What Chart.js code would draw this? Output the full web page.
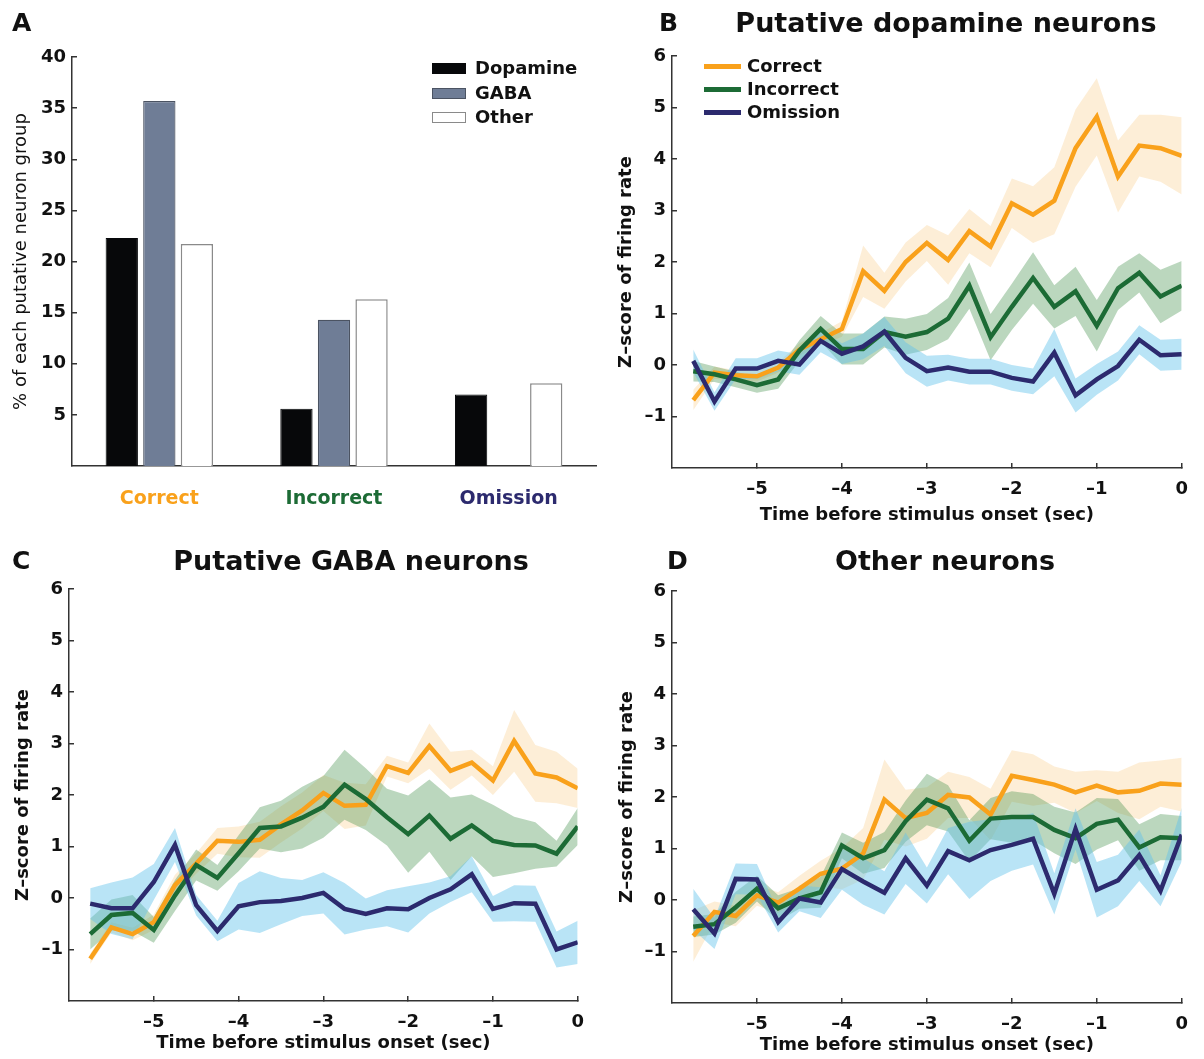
<!DOCTYPE html>
<html>
<head>
<meta charset="utf-8">
<script src="https://cdn.jsdelivr.net/npm/chart.js@4.4.1/dist/chart.umd.min.js"></script>
<style>
  body { margin: 0; width: 1204px; height: 1059px; position: relative; background: #fff;
         font-family: 'DejaVu Sans', sans-serif; color: #111; overflow: hidden; }
  canvas { position: absolute; }
  .letter { position: absolute; font-weight: bold; font-size: 25px; line-height: 25px; }
  .title { position: absolute; width: 560px; text-align: center; font-weight: bold;
           font-size: 27px; line-height: 27px; white-space: nowrap; }
  .leg { position: absolute; font-weight: bold; font-size: 18px; line-height: 18px; white-space: nowrap; }
  .leg .sw { position: absolute; }
  .leg span { position: absolute; }
</style>
</head>
<body>
<canvas id="chart-a" width="600" height="530" style="left:0;top:0"></canvas>
<canvas id="chart-b" width="604" height="530" style="left:600px;top:0"></canvas>
<canvas id="chart-c" width="600" height="529" style="left:0;top:530px"></canvas>
<canvas id="chart-d" width="604" height="529" style="left:600px;top:530px"></canvas>

<div class="letter" style="left:12px;top:10px">A</div>
<div class="letter" style="left:659px;top:10px">B</div>
<div class="letter" style="left:12px;top:548px">C</div>
<div class="letter" style="left:667px;top:548px">D</div>

<div class="title" style="left:666px;top:9px">Putative dopamine neurons</div>
<div class="title" style="left:71px;top:547px">Putative GABA neurons</div>
<div class="title" style="left:665px;top:547px">Other neurons</div>

<div id="legend-a"></div>
<div id="legend-b"></div>

<script>
// Panel A: % of each putative neuron group responding, by trial outcome
const CATEGORIES = ["Correct", "Incorrect", "Omission"];
const DOPAMINE_PCT = [22.3, 5.6, 7.0];
const GABA_PCT = [35.7, 14.3, 0];
const OTHER_PCT = [21.7, 16.3, 8.1];

// Panels B-D: z-scored firing rate before stimulus onset (mean and s.e.m.)
const TIMES = [-5.75, -5.5, -5.25, -5, -4.75, -4.5, -4.25, -4, -3.75, -3.5, -3.25, -3,
  -2.75, -2.5, -2.25, -2, -1.75, -1.5, -1.25, -1, -0.75, -0.5, -0.25, 0];

const DA_CORRECT = [-0.68, -0.15, -0.2, -0.22, -0.05, 0.3, 0.5, 0.7, 1.82, 1.44, 2.0, 2.37,
  2.04, 2.6, 2.3, 3.14, 2.92, 3.19, 4.21, 4.82, 3.66, 4.26, 4.21, 4.06];
const DA_CORRECT_SEM = [0.2, 0.12, 0.1, 0.1, 0.1, 0.12, 0.12, 0.15, 0.5, 0.35, 0.38, 0.35,
  0.48, 0.43, 0.4, 0.48, 0.55, 0.65, 0.75, 0.75, 0.7, 0.6, 0.65, 0.75];
const DA_INCORRECT = [-0.12, -0.18, -0.28, -0.39, -0.28, 0.28, 0.7, 0.31, 0.31, 0.64, 0.55, 0.64,
  0.9, 1.54, 0.54, 1.13, 1.69, 1.13, 1.43, 0.76, 1.49, 1.79, 1.33, 1.54];
const DA_INCORRECT_SEM = [0.2, 0.15, 0.15, 0.15, 0.18, 0.2, 0.25, 0.3, 0.3, 0.3, 0.35, 0.35,
  0.4, 0.45, 0.45, 0.45, 0.5, 0.42, 0.48, 0.5, 0.42, 0.38, 0.52, 0.48];
const DA_OMISSION = [0.08, -0.71, -0.07, -0.07, 0.08, 0.01, 0.47, 0.22, 0.36, 0.65, 0.14, -0.12,
  -0.05, -0.13, -0.13, -0.25, -0.32, 0.24, -0.59, -0.28, -0.02, 0.49, 0.19, 0.21];
const DA_OMISSION_SEM = [0.22, 0.18, 0.2, 0.2, 0.2, 0.2, 0.22, 0.2, 0.25, 0.28, 0.3, 0.3,
  0.25, 0.25, 0.25, 0.25, 0.25, 0.46, 0.33, 0.3, 0.28, 0.28, 0.3, 0.3];

const GABA_CORRECT = [-1.18, -0.57, -0.7, -0.47, 0.25, 0.67, 1.11, 1.09, 1.13, 1.43, 1.7, 2.04,
  1.79, 1.81, 2.56, 2.43, 2.95, 2.47, 2.63, 2.28, 3.05, 2.42, 2.34, 2.13];
const GABA_CORRECT_SEM = [0.1, 0.1, 0.12, 0.15, 0.2, 0.2, 0.25, 0.3, 0.35, 0.35, 0.35, 0.35,
  0.45, 0.4, 0.2, 0.2, 0.44, 0.37, 0.25, 0.28, 0.6, 0.55, 0.5, 0.38];
const GABA_INCORRECT = [-0.7, -0.33, -0.29, -0.62, 0.05, 0.64, 0.39, 0.87, 1.36, 1.39, 1.56, 1.77,
  2.2, 1.92, 1.57, 1.24, 1.6, 1.15, 1.41, 1.11, 1.03, 1.02, 0.86, 1.39];
const GABA_INCORRECT_SEM = [0.3, 0.3, 0.35, 0.25, 0.3, 0.3, 0.25, 0.35, 0.4, 0.5, 0.6, 0.6,
  0.68, 0.6, 0.55, 0.75, 0.7, 0.8, 0.6, 0.7, 0.55, 0.45, 0.25, 0.36];
const GABA_OMISSION = [-0.11, -0.2, -0.2, 0.31, 1.03, -0.14, -0.64, -0.16, -0.08, -0.06, 0.0, 0.1,
  -0.21, -0.31, -0.2, -0.22, 0.0, 0.17, 0.46, -0.21, -0.1, -0.11, -1.0, -0.86];
const GABA_OMISSION_SEM = [0.3, 0.5, 0.6, 0.35, 0.33, 0.2, 0.2, 0.45, 0.6, 0.45, 0.35, 0.4,
  0.5, 0.3, 0.35, 0.45, 0.3, 0.25, 0.35, 0.25, 0.35, 0.35, 0.35, 0.42];

const OTHER_CORRECT = [-0.7, -0.23, -0.31, 0.09, -0.05, 0.22, 0.51, 0.61, 0.9, 1.95, 1.59, 1.69,
  2.04, 1.99, 1.66, 2.41, 2.33, 2.24, 2.09, 2.22, 2.09, 2.12, 2.26, 2.24];
const OTHER_CORRECT_SEM = [0.5, 0.2, 0.2, 0.2, 0.2, 0.25, 0.25, 0.4, 0.5, 0.78, 0.55, 0.5,
  0.45, 0.4, 0.5, 0.5, 0.5, 0.35, 0.4, 0.3, 0.4, 0.55, 0.45, 0.52];
const OTHER_INCORRECT = [-0.52, -0.47, -0.14, 0.22, -0.16, 0.03, 0.15, 1.06, 0.81, 0.97, 1.53, 1.95,
  1.78, 1.15, 1.58, 1.61, 1.61, 1.36, 1.2, 1.48, 1.56, 1.02, 1.22, 1.2];
const OTHER_INCORRECT_SEM = [0.2, 0.2, 0.3, 0.25, 0.25, 0.2, 0.3, 0.25, 0.3, 0.35, 0.4, 0.5,
  0.45, 0.4, 0.4, 0.5, 0.45, 0.45, 0.5, 0.5, 0.4, 0.45, 0.45, 0.43];
const OTHER_OMISSION = [-0.18, -0.65, 0.41, 0.4, -0.43, 0.03, -0.05, 0.6, 0.36, 0.14, 0.81, 0.28,
  0.95, 0.77, 0.97, 1.07, 1.19, 0.12, 1.38, 0.2, 0.38, 0.87, 0.18, 1.27];
const OTHER_OMISSION_SEM = [0.4, 0.3, 0.3, 0.3, 0.2, 0.25, 0.3, 0.4, 0.45, 0.42, 0.5, 0.35,
  0.45, 0.75, 0.6, 0.5, 0.5, 0.4, 0.4, 0.54, 0.5, 0.5, 0.3, 0.52];

const Z_TICKS = [-1, 0, 1, 2, 3, 4, 5, 6];
const T_TICKS = [-5, -4, -3, -2, -1, 0];
const PCT_TICKS = [5, 10, 15, 20, 25, 30, 35, 40];

(function () {
  const FAMILY = "'DejaVu Sans', sans-serif";
  const INK = "#111";
  const AXIS = "#333";
  const LINE = { correct: "#f9a11b", incorrect: "#1c6b35", omission: "#2c2a6e" };
  const BAND = {
    correct: "rgba(245,180,80,0.23)",
    incorrect: "rgba(60,140,70,0.35)",
    omission: "rgba(100,195,235,0.45)",
  };
  const LABELS = { correct: "Correct", incorrect: "Incorrect", omission: "Omission" };
  const font = (size, weight = "bold") => ({ family: FAMILY, size, weight });
  const dash = (v) => String(v).replace("-", "\u2013");
  const only = (list) => (s) => { s.ticks = list.map((v) => ({ value: v })); };
  const pts = (ys, sem, sign) => TIMES.map((t, i) => ({ x: t, y: ys[i] + sign * sem[i] }));

  // ---- A: grouped bars
  new Chart(document.getElementById("chart-a"), {
    type: "bar",
    data: {
      labels: CATEGORIES,
      datasets: [
        { label: "Dopamine", data: DOPAMINE_PCT, backgroundColor: "#07080a", borderColor: "#07080a", borderWidth: 1 },
        { label: "GABA", data: GABA_PCT, backgroundColor: "#6f7d96", borderColor: "#4b5362", borderWidth: 1.2 },
        { label: "Other", data: OTHER_PCT, backgroundColor: "#ffffff", borderColor: "#8a8a8a", borderWidth: 1.5 },
      ],
    },
    options: {
      responsive: false, animation: false,
      layout: { padding: { top: 57, right: 4, bottom: 0, left: 0 } },
      datasets: { bar: { categoryPercentage: 0.645, barPercentage: 0.86 } },
      plugins: { legend: { display: false }, tooltip: { enabled: false } },
      scales: {
        x: {
          grid: { display: false, drawTicks: false },
          border: { color: AXIS, width: 1.5 },
          ticks: {
            padding: 22, font: font(19),
            color: (c) => [LINE.correct, LINE.incorrect, LINE.omission][c.index],
          },
          afterFit: (s) => { s.height = 64; },
        },
        y: {
          min: 0, max: 40,
          afterBuildTicks: only(PCT_TICKS),
          grid: { drawOnChartArea: false, tickLength: -5, color: AXIS, lineWidth: 1.5 },
          border: { color: AXIS, width: 1.5 },
          ticks: { padding: 11, font: font(18), color: INK },
          title: { display: true, text: "% of each putative neuron group", font: font(18, "normal"),
                   color: INK, padding: { top: 11, bottom: 0 } },
          afterFit: (s) => { s.width = 72; },
        },
      },
    },
  });

  // ---- B-D: mean line with shaded s.e.m. band per outcome
  function zChart(id, groups, g) {
    const datasets = [];
    groups.forEach(([key, mean, sem], k) => {
      datasets.push({ label: LABELS[key], data: TIMES.map((t, i) => ({ x: t, y: mean[i] })),
        borderColor: LINE[key], borderWidth: 4.5, pointRadius: 0, fill: false, order: 3 - k });
    });
    groups.forEach(([key, mean, sem], k) => {
      datasets.push({ data: pts(mean, sem, 1), fill: "+1", backgroundColor: BAND[key],
        borderWidth: 0, pointRadius: 0, order: 12 - k });
      datasets.push({ data: pts(mean, sem, -1), fill: false, borderWidth: 0, pointRadius: 0, order: 12 - k });
    });
    new Chart(document.getElementById(id), {
      type: "line",
      data: { datasets },
      options: {
        responsive: false, animation: false,
        layout: { padding: { top: g.top, right: g.right, bottom: 0, left: 0 } },
        plugins: { legend: { display: false }, tooltip: { enabled: false } },
        scales: {
          x: {
            type: "linear", min: -6, max: 0,
            afterBuildTicks: only(T_TICKS),
            grid: { drawOnChartArea: false, tickLength: -5, color: AXIS, lineWidth: 1.5 },
            border: { color: AXIS, width: 1.5 },
            ticks: { padding: 16, font: font(18), color: INK, callback: dash, maxRotation: 0 },
            title: { display: true, text: "Time before stimulus onset (sec)", font: font(18),
                     color: INK, padding: { top: 0, bottom: g.xtb } },
            afterFit: (s) => { s.height = g.xh; },
          },
          y: {
            min: -2, max: 6,
            afterBuildTicks: only(Z_TICKS),
            grid: { drawOnChartArea: false, tickLength: -5, color: AXIS, lineWidth: 1.5 },
            border: { color: AXIS, width: 1.5 },
            ticks: { padding: 11, font: font(18), color: INK, callback: dash },
            title: { display: true, text: "Z\u2013score of firing rate", font: font(18),
                     color: INK, padding: { top: g.ytp, bottom: 0 } },
            afterFit: (s) => { s.width = g.yw; },
          },
        },
      },
    });
  }

  zChart("chart-b", [["correct", DA_CORRECT, DA_CORRECT_SEM], ["incorrect", DA_INCORRECT, DA_INCORRECT_SEM],
    ["omission", DA_OMISSION, DA_OMISSION_SEM]], { top: 56, right: 8, yw: 72, xh: 62, xtb: 4, ytp: 16 });
  zChart("chart-c", [["correct", GABA_CORRECT, GABA_CORRECT_SEM], ["incorrect", GABA_INCORRECT, GABA_INCORRECT_SEM],
    ["omission", GABA_OMISSION, GABA_OMISSION_SEM]], { top: 59, right: 5, yw: 69, xh: 58, xtb: 5, ytp: 13 });
  zChart("chart-d", [["correct", OTHER_CORRECT, OTHER_CORRECT_SEM], ["incorrect", OTHER_INCORRECT, OTHER_INCORRECT_SEM],
    ["omission", OTHER_OMISSION, OTHER_OMISSION_SEM]], { top: 61, right: 8, yw: 72, xh: 56, xtb: 3, ytp: 17 });

  // ---- legends
  const boxes = [["Dopamine", "background:#07080a"], ["GABA", "background:#6f7d96;border:1px solid #4b5362"],
    ["Other", "background:#fff;border:1.5px solid #8a8a8a"]];
  document.getElementById("legend-a").innerHTML = boxes.map(([t, st], i) => `
    <div class="leg" style="left:432px;top:${[59, 84, 108][i]}px">
      <div class="sw" style="left:0;top:4px;width:34px;height:11px;box-sizing:border-box;${st}"></div>
      <span style="left:43px;top:0">${t}</span></div>`).join("");
  document.getElementById("legend-b").innerHTML = ["correct", "incorrect", "omission"].map((k, i) => `
    <div class="leg" style="left:704px;top:${[57, 80, 103][i]}px">
      <div class="sw" style="left:0;top:6.5px;width:37px;height:5px;background:${LINE[k]}"></div>
      <span style="left:43px;top:0">${LABELS[k]}</span></div>`).join("");
})();
</script>
</body>
</html>
